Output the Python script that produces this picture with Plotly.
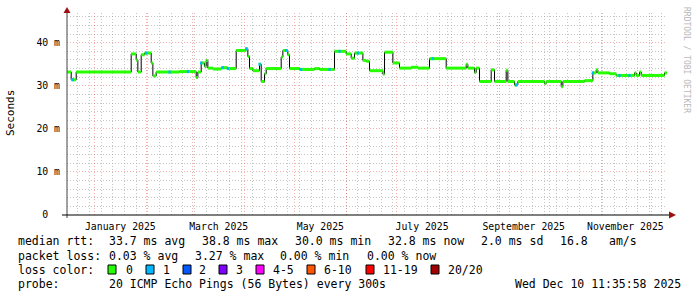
import numpy as np
import pandas as pd
import plotly.graph_objects as go

# ---------------- data ----------------
start_time = "2024-12-15 11:35:58"
end_time = "2025-12-10 11:35:58"

change_dates = [
    "2024-12-15 11:35:58", "2024-12-18", "2024-12-21", "2025-01-23", "2025-01-26",
    "2025-01-27", "2025-01-29", "2025-01-31", "2025-02-04", "2025-02-05",
    "2025-02-07", "2025-02-21", "2025-03-03", "2025-03-04", "2025-03-06",
    "2025-03-08", "2025-03-09", "2025-03-10", "2025-03-13", "2025-03-18",
    "2025-03-22", "2025-03-27", "2025-04-02", "2025-04-03", "2025-04-04",
    "2025-04-06", "2025-04-10", "2025-04-11", "2025-04-13", "2025-04-14",
    "2025-04-23", "2025-04-24", "2025-04-27", "2025-04-28", "2025-05-04",
    "2025-05-13", "2025-05-16", "2025-05-25", "2025-06-01", "2025-06-04",
    "2025-06-06", "2025-06-11", "2025-06-13", "2025-06-15", "2025-06-23",
    "2025-06-24", "2025-06-29", "2025-07-03", "2025-07-10", "2025-07-14",
    "2025-07-21", "2025-07-31", "2025-08-12", "2025-08-13", "2025-08-17",
    "2025-08-18", "2025-08-20", "2025-08-27", "2025-08-29", "2025-09-05",
    "2025-09-06", "2025-09-10", "2025-09-12", "2025-09-28", "2025-09-29",
    "2025-10-08", "2025-10-09", "2025-10-22", "2025-10-27", "2025-10-29",
    "2025-10-30", "2025-11-06", "2025-11-10", "2025-11-21", "2025-11-22",
    "2025-11-24", "2025-11-25", "2025-12-09",
]
median_ms = [
    33.2, 31.4, 33.2, 37.4, 36.0,
    33.2, 37.2, 37.6, 35.3, 32.3,
    33.2, 33.3, 31.9, 33.2, 35.3,
    34.5, 35.9, 34.1, 33.9, 34.2,
    34.0, 38.2, 38.6, 36.8, 34.0,
    33.5, 35.0, 31.0, 32.8, 34.0,
    36.7, 38.2, 37.2, 34.0, 33.8,
    34.0, 33.8, 38.0, 37.4, 36.4,
    37.6, 35.9, 35.7, 33.5, 32.7,
    37.8, 35.3, 34.1, 34.3, 34.1,
    36.3, 34.1, 35.0, 34.1, 33.1,
    34.1, 31.0, 33.7, 31.0, 33.6,
    31.0, 30.2, 31.0, 30.5, 31.0,
    29.8, 31.0, 31.2, 33.0, 33.7,
    33.0, 32.8, 32.4, 33.0, 32.4,
    33.2, 32.4, 33.0,
]
# moments with 1/20 packet loss (drawn in the "1" loss colour)
loss1_dates = [
    "2024-12-19", "2025-02-01", "2025-02-15", "2025-02-26", "2025-03-06",
    "2025-03-19", "2025-03-22", "2025-04-02", "2025-04-10", "2025-04-26",
    "2025-05-05", "2025-05-22", "2025-05-28", "2025-06-08", "2025-07-23",
    "2025-09-11", "2025-10-27", "2025-11-12", "2025-11-18",
]

month_starts = [f"2025-{m:02d}-01" for m in range(1, 13)]
week_starts = [d.strftime("%Y-%m-%d") for d in pd.date_range("2024-12-22", "2025-12-07", freq="7D")]
label_dates = ["2025-01-16 12:00", "2025-03-16 12:00", "2025-05-16 12:00",
               "2025-07-16 12:00", "2025-09-15 12:00", "2025-11-15 12:00"]
label_text = ["January 2025", "March 2025", "May 2025",
              "July 2025", "September 2025", "November 2025"]
y_ticks = [0, 10, 20, 30, 40]
y_ticktext = ["0\u00a0\u00a0", "10 m", "20 m", "30 m", "40 m"]
y_minor = [2, 4, 6, 8, 12, 14, 16, 18, 22, 24, 26, 28, 32, 34, 36, 38, 42, 44, 46]

loss_labels = ["0", "1", "2", "3", "4-5", "6-10", "11-19", "20/20"]
loss_colors = ["#26ff00", "#00b8ff", "#0059ff", "#7e00ff", "#ff00ff",
               "#ff5500", "#ff0000", "#a10000"]

legend_line1 = ["median rtt:", "33.7 ms avg", "38.8 ms max", "30.0 ms min",
                "32.8 ms now", "2.0 ms sd", "16.8", "am/s"]
legend_line2 = ["packet loss:", "0.03 % avg", "3.27 % max", "0.00 % min", "0.00 % now"]
legend_line4 = ["probe:", "20 ICMP Echo Pings (56 Bytes) every 300s",
                "Wed Dec 10 11:35:58 2025"]

# ---------------- geometry helpers (pixel -> paper) ----------------
W, H = 697, 297
L, R, T, B = 67, 30, 13, 82
PW, PH = W - L - R, H - T - B


def px(xp):
    return (xp - L) / PW


def py(yp):
    return (H - B - yp) / PH


MONO = "DejaVu Sans Mono"

# ---------------- traces ----------------
t = pd.to_datetime(change_dates + [end_time], format="ISO8601")
vals = np.array(median_ms)

fig = go.Figure()

# black step connector
fig.add_trace(go.Scatter(
    x=list(t), y=list(vals) + [vals[-1]], mode="lines",
    line=dict(color="#000000", width=1, shape="hv"), hoverinfo="skip"))

# green horizontal segments (loss 0)
seg_x, seg_y = [], []
for i, v in enumerate(vals):
    seg_x += [t[i], t[i + 1], None]
    seg_y += [v, v, None]
fig.add_trace(go.Scatter(x=seg_x, y=seg_y, mode="lines",
                         line=dict(color=loss_colors[0], width=3), hoverinfo="skip"))

# loss-1 bits
ld = pd.to_datetime(loss1_dates, format="ISO8601")
idx = np.searchsorted(t.values, ld.values, side="right") - 1
half = pd.Timedelta(hours=16)
bx, by = [], []
for d, k in zip(ld, idx):
    bx += [d - half, d + half, None]
    by += [vals[k], vals[k], None]
fig.add_trace(go.Scatter(x=bx, y=by, mode="lines",
                         line=dict(color=loss_colors[1], width=3), hoverinfo="skip"))

# dummy trace for the label axis
fig.add_trace(go.Scatter(x=[t[0], t[-1]], y=[None, None], xaxis="x2",
                         mode="lines", hoverinfo="skip"))

major_grid = "rgba(235,80,80,0.45)"
minor_grid = "rgba(150,150,150,0.55)"
dash = "1px,2px"

fig.update_layout(
    width=W, height=H, margin=dict(l=L, r=R, t=T, b=B),
    paper_bgcolor="white", plot_bgcolor="white", showlegend=False,
    xaxis=dict(type="date", range=[start_time, end_time], tickmode="array",
               tickvals=month_starts, showticklabels=False, ticks="",
               showgrid=True, gridcolor=major_grid, griddash=dash, gridwidth=1,
               zeroline=False, showline=False,
               minor=dict(tickmode="array", tickvals=week_starts, showgrid=True,
                          gridcolor=minor_grid, griddash=dash, gridwidth=1, ticks="")),
    xaxis2=dict(type="date", overlaying="x", anchor="y", side="bottom",
                range=[start_time, end_time], tickmode="array",
                tickvals=label_dates, ticktext=label_text, showgrid=False,
                ticks="", zeroline=False, showline=False, ticklabelstandoff=4,
                tickfont=dict(family=MONO, size=9.8, color="#000000")),
    yaxis=dict(range=[0, 46.9], tickmode="array", tickvals=y_ticks,
               ticktext=y_ticktext, ticks="", showgrid=True,
               gridcolor=major_grid, griddash=dash, gridwidth=1,
               zeroline=False, showline=False, ticklabelstandoff=6,
               tickfont=dict(family=MONO, size=9.8, color="#000000"),
               minor=dict(tickmode="array", tickvals=y_minor, showgrid=True,
                          gridcolor=minor_grid, griddash=dash, gridwidth=1, ticks="")),
)

shapes = []
# axis lines
shapes.append(dict(type="line", xref="paper", yref="paper", x0=px(67), x1=px(67),
                   y0=py(218), y1=py(10), line=dict(color="#444444", width=1)))
shapes.append(dict(type="line", xref="paper", yref="paper", x0=px(62), x1=px(672),
                   y0=py(215), y1=py(215), line=dict(color="#000000", width=1)))
# arrows
arrow_col = "#9b1010"
shapes.append(dict(type="path", xref="paper", yref="paper",
                   path=f"M {px(63.5)},{py(13)} L {px(70.5)},{py(13)} L {px(67)},{py(7)} Z",
                   fillcolor=arrow_col, line=dict(color=arrow_col, width=0)))
shapes.append(dict(type="path", xref="paper", yref="paper",
                   path=f"M {px(669)},{py(211.5)} L {px(669)},{py(218.5)} L {px(676)},{py(215)} Z",
                   fillcolor=arrow_col, line=dict(color=arrow_col, width=0)))

annotations = []


def txt(x, y, s, size=11.5, color="#000000", **kw):
    annotations.append(dict(xref="paper", yref="paper", x=px(x), y=py(y), text=s,
                            showarrow=False, xanchor=kw.get("xanchor", "left"),
                            yanchor="middle", textangle=kw.get("angle", 0),
                            font=dict(family=MONO, size=size, color=color)))


# legend lines
for xp, s in zip([16, 107, 200, 293, 386, 479, 558, 607], legend_line1):
    txt(xp, 241.5, s)
for xp, s in zip([16, 107, 193, 278, 365], legend_line2):
    txt(xp, 255.5, s)
txt(16, 269.5, "loss color:")
swatch_x = [108, 146, 183, 219, 256, 307, 366, 431]
label_x = [124, 161, 197, 234, 271, 322, 381, 446]
for sx, lx, lab, col in zip(swatch_x, label_x, loss_labels, loss_colors):
    shapes.append(dict(type="rect", xref="paper", yref="paper", x0=px(sx), x1=px(sx + 8),
                       y0=py(274), y1=py(265), fillcolor=col,
                       line=dict(color="#000000", width=1)))
    txt(lx, 269.5, lab)
for xp, s in zip([16, 107, 513], legend_line4):
    txt(xp, 283.5, s)

# y axis title and watermark
txt(10, 113, "Seconds", size=11, xanchor="center", angle=-90)
txt(687, 60, "RRDTOOL / TOBI OETIKER", size=8, color="#b8b8b8", xanchor="center", angle=90)

fig.update_layout(shapes=shapes, annotations=annotations)
fig.write_html("out.html")
